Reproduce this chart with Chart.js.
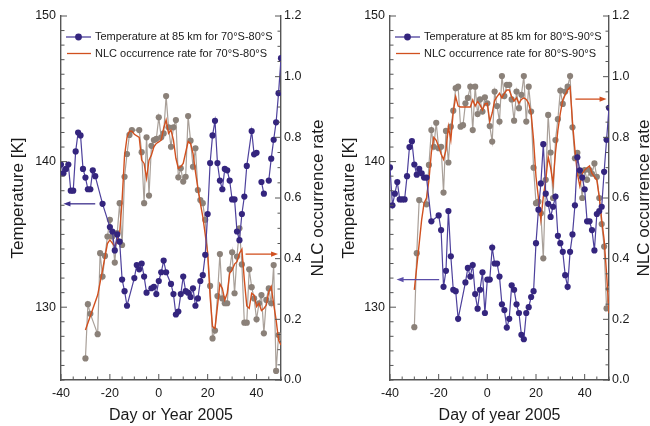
<!DOCTYPE html>
<html>
<head>
<meta charset="utf-8">
<script src="https://cdn.jsdelivr.net/npm/chart.js@4.4.0/dist/chart.umd.min.js"></script>
<style>
  html, body { margin: 0; padding: 0; background: #fff; }
  #wrap { position: relative; width: 650px; height: 426px; }
  canvas { position: absolute; left: 0; top: 0; }
</style>
</head>
<body>
<div id="wrap">
  <canvas id="chartA" width="650" height="426"></canvas>
  <canvas id="chartB" width="650" height="426"></canvas>
</div>
<script>
// axis ticks
const dayTicks = [-40, -20, 0, 20, 40];
const tempTicks = [130, 140, 150];
const rateTicks = [0, 0.2, 0.4, 0.6, 0.8, 1.0, 1.2];

// ---- left panel: 70S-80S ----
const tempDaysA = [-40,-39,-38,-37,-36,-35,-34,-33,-32,-31,-30,-29,-28,-27,-26,-23,-20,-19,-18,-17,-16,-15,-14,-13,
  -10,-9,-8,-7,-6,-5,-3,-2,-1,0,1,2,3,5,6,7,8,9,10,11,12,13,14,15,16,17,18,19,20,21,22,23,24,25,26,27,28,29,30,31,32,33,34,35,36,
  38,39,40,41,42,43,44,45,46,47,48,49,50];
const tempA = [139.8,139.2,139.5,139.8,138.0,138.0,140.7,142.0,141.8,139.5,138.9,138.1,138.1,139.4,139.0,137.1,135.5,135.2,133.9,135.0,134.5,131.9,131.1,130.1,
  132.0,132.9,132.6,133.0,132.1,131.0,131.3,131.4,130.9,131.8,132.4,133.2,132.4,131.6,130.9,129.5,129.7,130.9,132.1,131.1,131.0,130.7,131.3,130.1,130.6,131.8,132.2,133.6,136.4,139.9,141.8,142.8,139.9,138.7,138.1,139.5,139.4,138.7,137.4,137.4,135.2,134.6,136.4,137.6,139.7,
  142.1,140.5,140.6,null,138.6,137.8,null,138.7,140.2,141.5,142.7,144.7,147.1];

const rateDaysA = [-30,-29,-28,-25,-24,-23,-22,-21,-20,-19,-18,-17,-16,-15,-14,-13,-12,-11,-8,-7,-6,-5,-4,-3,-2,-1,0,1,2,3,4,5,6,7,8,9,10,
  11,12,13,14,15,16,17,18,19,21,22,23,24,25,26,27,28,29,30,31,32,33,34,35,36,37,38,39,40,41,42,43,44,45,46,47,48,49,50];
const rateA = [0.071,0.25,0.218,0.151,0.418,0.341,0.409,0.473,0.528,0.473,0.387,0.484,0.583,0.445,0.67,0.745,0.808,0.824,0.824,0.751,0.583,0.80,0.608,0.772,0.791,0.795,0.866,0.80,0.813,0.936,0.833,0.769,0.833,0.857,0.668,0.698,0.654,
  0.67,0.87,0.789,0.703,0.764,0.626,0.593,0.583,0.528,0.31,0.137,0.163,0.277,0.415,0.269,0.253,0.253,0.365,0.421,0.286,0.407,0.5,0.381,0.189,0.189,0.365,0.306,0.269,0.2,0.253,0.28,0.154,0.264,0.302,0.253,0.379,0.03,0.148,0.14];

const meanDaysA = [-30,-25,-23,-21,-20,-18,-16,-15,-14,-13,-12,-11,-10,-8,-7,-6,-5,-4,-3,-2,-1,0,1,2,3,4,5,6,7,8,9,10,
  11,12,13,14,15,16,17,18,19,20,21,22,23,24,25,26,27,28,29,30,31,32,33,34,35,36,37,38,39,40,41,42,43,44,45,46,47,48,49,50];
const meanA = [0.165,0.28,0.363,0.45,0.462,0.44,0.484,0.593,0.74,0.80,0.82,0.82,0.81,0.80,0.725,0.714,0.665,0.725,0.742,0.769,0.78,0.785,0.791,0.83,0.857,0.813,0.824,0.791,0.731,0.698,0.703,0.714,
  0.75,0.786,0.78,0.747,0.687,0.632,0.583,0.539,0.48,0.418,0.275,0.176,0.17,0.242,0.317,0.302,0.264,0.286,0.352,0.363,0.382,0.39,0.418,0.431,0.33,0.244,0.236,0.286,0.28,0.242,0.253,0.229,0.236,0.247,0.291,0.308,0.25,0.198,0.132,0.115];

// ---- right panel: 80S-90S ----
const tempDaysB = [-40,-39,-38,-37,-36,-35,-34,-33,-32,-31,-30,-29,-28,-27,-26,-25,-23,-20,-19,-18,-17,-16,-15,-14,-13,-12,
  -9,-8,-7,-6,-5,-4,-3,-2,-1,0,1,2,3,4,5,6,7,8,9,10,11,12,13,14,15,16,17,18,19,20,21,22,23,24,25,26,27,28,29,30,31,32,33,34,35,36,
  37,38,39,40,41,42,43,44,45,46,47,48,49,50];
const tempB = [139.6,137.0,137.8,138.6,137.4,137.4,137.4,139.0,141.0,141.4,139.8,139.1,139.5,139.2,138.9,138.9,135.9,136.3,135.3,131.4,132.5,136.6,133.5,131.2,131.1,129.2,
  131.7,132.7,132.1,132.9,130.9,129.9,131.2,132.4,129.6,131.9,131.9,134.1,133.0,133.0,132.1,130.2,129.8,128.6,129.2,131.5,131.2,130.2,129.6,128.1,127.8,129.6,130.0,130.7,131.1,134.4,136.7,138.5,141.2,137.8,137.1,136.2,136.9,137.6,134.9,134.4,133.8,132.2,131.4,133.8,135.0,137.0,
  140.3,139.4,138.9,138.1,135.9,135.9,135.3,133.9,136.4,136.6,136.9,139.3,141.5,143.7];

const rateDaysB = [-30,-29,-28,-25,-24,-23,-22,-21,-20,-19,-18,-17,-16,-15,-14,-13,-12,-11,-10,-9,-8,-7,-6,-5,-4,-3,-2,-1,0,1,2,3,4,5,6,7,8,9,10,
  11,12,13,14,15,16,17,18,19,20,21,22,23,24,25,26,27,28,29,30,31,32,33,34,35,36,37,38,39,40,41,42,43,44,45,46,47,48,49,50];
const rateB = [0.174,0.418,0.593,0.579,0.709,0.824,0.769,0.848,0.764,0.769,0.618,0.821,0.717,0.835,0.888,0.962,0.967,0.835,0.84,0.912,0.93,0.967,0.824,0.967,0.877,0.925,0.885,0.932,0.912,0.837,0.786,0.951,0.903,0.852,1.002,0.936,0.973,0.973,0.925,
  0.855,0.951,0.896,0.94,1.002,0.852,0.967,0.885,0.70,0.583,0.588,0.55,0.401,0.66,0.874,0.75,0.60,0.791,0.86,0.954,0.91,0.951,0.967,1.002,0.833,0.731,0.749,0.68,0.60,0.692,0.66,0.692,0.68,0.714,0.67,0.60,0.514,0.44,0.236,0.30];

const meanDaysB = [-30,-28,-27,-26,-25,-24,-23,-22,-21,-20,-19,-18,-17,-16,-15,-14,-13,-12,-11,-10,-9,-8,-7,-6,-5,-4,-3,-2,-1,0,1,2,3,4,5,6,7,8,9,10,
  11,12,13,14,15,16,17,18,19,20,21,22,23,24,25,26,27,28,29,30,31,32,33,34,35,36,37,38,39,40,41,42,43,44,45,46,47,48,49,50];
const meanB = [0.297,0.45,0.528,0.583,0.60,0.659,0.75,0.80,0.79,0.769,0.745,0.727,0.758,0.835,0.791,0.885,0.934,0.903,0.90,0.90,0.90,0.90,0.90,0.923,0.903,0.918,0.907,0.89,0.91,0.912,0.852,0.88,0.921,0.934,0.945,0.93,0.945,0.956,0.956,0.934,
  0.92,0.93,0.912,0.925,0.93,0.925,0.912,0.879,0.791,0.67,0.6,0.528,0.604,0.659,0.736,0.70,0.648,0.75,0.824,0.88,0.923,0.94,0.956,0.965,0.85,0.758,0.68,0.64,0.681,0.692,0.70,0.706,0.681,0.67,0.659,0.604,0.528,0.462,0.352,0.22];

const FONT = '"Liberation Sans", Arial, sans-serif';
const purple = '#34257e';
const purpleLine = '#4d409c';
const greyDot = '#8b8179';
const greyLine = '#a9a099';
const orange = '#d1501f';
const axisCol = '#555';

function pts(days, vals) {
  return days.map((d, i) => ({ x: d, y: vals[i] }));
}

// inward ticks, legend, arrows and right-hand title
const decor = {
  id: 'decor',
  afterDraw(chart, args, opts) {
    const ctx = chart.ctx;
    const area = chart.chartArea;
    const sx = chart.scales.x, sy = chart.scales.y, sr = chart.scales.y1;
    ctx.save();
    ctx.strokeStyle = axisCol;
    ctx.lineWidth = 1;
    ctx.beginPath();
    for (let d = -40; d <= 50; d += 5) {
      const px = sx.getPixelForValue(d);
      const len = d % 20 === 0 ? 6 : 3.5;
      ctx.moveTo(px, area.bottom); ctx.lineTo(px, area.bottom - len);
    }
    for (let t = 125; t <= 150; t += 1) {
      const py = sy.getPixelForValue(t);
      const len = t % 10 === 0 ? 6 : 3.5;
      ctx.moveTo(area.left, py); ctx.lineTo(area.left + len, py);
    }
    for (let k = 0; k <= 24; k++) {
      const py = sr.getPixelForValue(k * 0.05);
      const len = k % 4 === 0 ? 6 : 3.5;
      ctx.moveTo(area.right, py); ctx.lineTo(area.right - len, py);
    }
    ctx.stroke();

    // legend
    const lx = area.left + 5, ly = area.top + 21;
    ctx.lineWidth = 1.3;
    ctx.strokeStyle = purpleLine;
    ctx.beginPath(); ctx.moveTo(lx, ly); ctx.lineTo(lx + 25, ly); ctx.stroke();
    ctx.fillStyle = purple;
    ctx.beginPath(); ctx.arc(lx + 12.5, ly, 3.4, 0, Math.PI * 2); ctx.fill();
    ctx.strokeStyle = orange;
    ctx.beginPath(); ctx.moveTo(lx + 1, ly + 16.5); ctx.lineTo(lx + 25, ly + 16.5); ctx.stroke();
    ctx.fillStyle = '#1a1a1a';
    ctx.font = '11px ' + FONT;
    ctx.textBaseline = 'middle';
    ctx.textAlign = 'left';
    ctx.fillText(opts.labels[0], lx + 29, ly);
    ctx.fillText(opts.labels[1], lx + 29, ly + 16.5);

    // arrows (data coordinates)
    opts.arrows.forEach(a => {
      const sc = chart.scales[a.axis];
      const x0 = sx.getPixelForValue(a.from), x1 = sx.getPixelForValue(a.to);
      const py = sc.getPixelForValue(a.at);
      const dir = Math.sign(x1 - x0);
      ctx.strokeStyle = a.color; ctx.fillStyle = a.color; ctx.lineWidth = 1.3;
      ctx.beginPath(); ctx.moveTo(x0, py); ctx.lineTo(x1 - dir * 4, py); ctx.stroke();
      ctx.beginPath();
      ctx.moveTo(x1, py); ctx.lineTo(x1 - dir * 7, py - 2.6); ctx.lineTo(x1 - dir * 7, py + 2.6);
      ctx.closePath(); ctx.fill();
    });

    // right axis title, reading bottom to top
    ctx.fillStyle = '#1a1a1a';
    ctx.font = '17px ' + FONT;
    ctx.textAlign = 'center';
    ctx.translate(opts.rightTitleX, (area.top + area.bottom) / 2);
    ctx.rotate(-Math.PI / 2);
    ctx.fillText('NLC occurrence rate', 0, 0);
    ctx.restore();
  }
};

function makeChart(id, cfg) {
  const tickFont = { family: FONT, size: 12.5 };
  return new Chart(document.getElementById(id), {
    type: 'line',
    data: {
      datasets: [
        { data: pts(cfg.tempDays, cfg.temp), yAxisID: 'y', borderColor: purpleLine, borderWidth: 1.2,
          pointRadius: 3.1, pointBackgroundColor: purple, pointBorderWidth: 0, tension: 0 },
        { data: pts(cfg.meanDays, cfg.mean), yAxisID: 'y1', borderColor: orange, borderWidth: 1.4,
          pointRadius: 0, tension: 0 },
        { data: pts(cfg.rateDays, cfg.rate), yAxisID: 'y1', borderColor: greyLine, borderWidth: 1.2,
          pointRadius: 3.1, pointBackgroundColor: greyDot, pointBorderWidth: 0, tension: 0 }
      ]
    },
    options: {
      responsive: false,
      animation: false,
      events: [],
      layout: { padding: { left: cfg.padLeft, right: cfg.padRight, top: 16, bottom: 0 } },
      plugins: {
        legend: { display: false },
        tooltip: { enabled: false },
        decor: { labels: cfg.labels, arrows: cfg.arrows, rightTitleX: cfg.rightTitleX }
      },
      scales: {
        x: {
          type: 'linear', min: -40, max: 50,
          afterBuildTicks: s => { s.ticks = dayTicks.map(v => ({ value: v })); },
          afterFit: s => { s.height = 46; },
          ticks: { font: tickFont, color: '#1a1a1a', padding: 6 },
          grid: { drawOnChartArea: false, drawTicks: false },
          border: { display: true, color: axisCol, width: 1.4 },
          title: { display: true, text: cfg.xTitle, font: { family: FONT, size: 16 }, color: '#1a1a1a', padding: { top: 0, bottom: 1 } }
        },
        y: {
          position: 'left', min: 125, max: 150,
          afterBuildTicks: s => { s.ticks = tempTicks.map(v => ({ value: v })); },
          afterFit: s => { s.width = cfg.yWidth; },
          ticks: { font: tickFont, color: '#1a1a1a', padding: 5 },
          grid: { drawOnChartArea: false, drawTicks: false },
          border: { display: true, color: axisCol, width: 1.4 },
          title: { display: true, text: 'Temperature [K]', font: { family: FONT, size: 17 }, color: '#1a1a1a', padding: { top: 8, bottom: 0 } }
        },
        y1: {
          position: 'right', min: 0, max: 1.2,
          afterBuildTicks: s => { s.ticks = rateTicks.map(v => ({ value: v })); },
          afterFit: s => { s.width = cfg.y1Width; },
          ticks: { font: tickFont, color: '#1a1a1a', padding: 3, callback: v => v.toFixed(1) },
          grid: { drawOnChartArea: false, drawTicks: false },
          border: { display: true, color: axisCol, width: 1.4 }
        }
      }
    },
    plugins: [decor]
  });
}

makeChart('chartA', {
  tempDays: tempDaysA, temp: tempA, rateDays: rateDaysA, rate: rateA, meanDays: meanDaysA, mean: meanA,
  padLeft: 0, padRight: 319, yWidth: 61, y1Width: 50, rightTitleX: 318.5,
  xTitle: 'Day or Year 2005',
  labels: ['Temperature at 85 km for 70°S-80°S', 'NLC occurrence rate for 70°S-80°S'],
  arrows: [
    { axis: 'y', at: 137.1, from: -26, to: -39, color: '#3d2f8c' },
    { axis: 'y1', at: 0.415, from: 35.5, to: 48.8, color: orange }
  ]
});

makeChart('chartB', {
  tempDays: tempDaysB, temp: tempB, rateDays: rateDaysB, rate: rateB, meanDays: meanDaysB, mean: meanB,
  padLeft: 331, padRight: 0, yWidth: 59, y1Width: 41, rightTitleX: 644,
  xTitle: 'Day of year 2005',
  labels: ['Temperature at 85 km for 80°S-90°S', 'NLC occurrence rate for 80°S-90°S'],
  arrows: [
    { axis: 'y', at: 131.9, from: -19.8, to: -37.3, color: '#5a4da8' },
    { axis: 'y1', at: 0.926, from: 36.2, to: 49.0, color: orange }
  ]
});
</script>
</body>
</html>
